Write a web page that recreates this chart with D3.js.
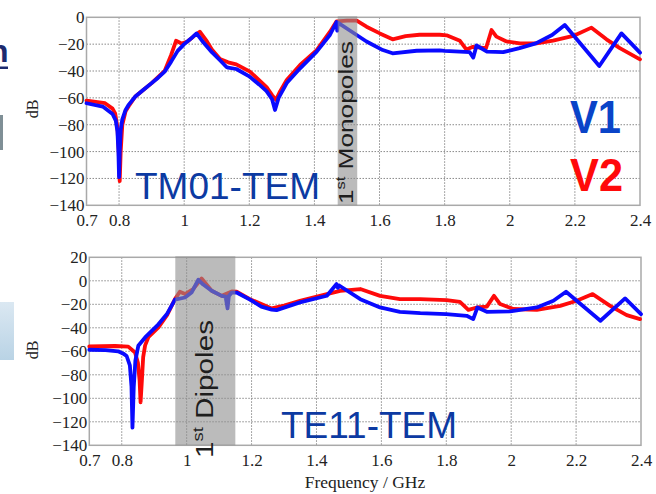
<!DOCTYPE html>
<html><head><meta charset="utf-8">
<script src="https://cdn.jsdelivr.net/npm/d3@7"></script>
<style>
html,body{margin:0;padding:0;background:#fff;}
svg{display:block;}
.tick text{font-family:"Liberation Serif","Times New Roman",serif;}
</style></head>
<body>
<svg id="chart" width="656" height="494"></svg>
<script>
// ---------- DATA ----------
const xTicks = [0.7, 0.8, 1, 1.2, 1.4, 1.6, 1.8, 2, 2.2, 2.4];
const xTickLabels = ["0.7", "0.8", "1", "1.2", "1.4", "1.6", "1.8", "2", "2.2", "2.4"];
const xGrid = [0.8, 1, 1.2, 1.4, 1.6, 1.8, 2, 2.2];
const yTicksTop = [0, -20, -40, -60, -80, -100, -120, -140];
const yTicksBottom = [20, 0, -20, -40, -60, -80, -100, -120, -140];

// TM01-TEM, V1 (blue)
const tmFreqV1 = [0.70,0.75,0.78,0.79,0.795,0.798,0.800,0.802,0.805,0.81,0.82,0.83,0.85,0.875,0.90,0.92,0.94,0.96,0.98,1.00,1.02,1.038,1.06,1.085,1.11,1.13,1.135,1.16,1.20,1.23,1.253,1.27,1.279,1.29,1.315,1.356,1.407,1.448,1.468,1.470,1.472,1.51,1.56,1.61,1.64,1.714,1.785,1.80,1.877,1.888,1.898,1.93,1.98,2.03,2.08,2.13,2.169,2.275,2.343,2.40];
const tmDbV1   = [-64,-66.5,-72,-77,-85,-100,-119,-100,-84,-76,-69,-65,-59,-54,-49,-45,-40.5,-33,-25,-20,-16,-12,-19,-26,-32,-37,-37.5,-38.5,-44,-50,-55,-61,-69,-60,-49,-38,-25.6,-13,-3.5,-10,-4,-10,-18,-24.4,-26.8,-24.9,-24.7,-25,-26,-30,-21,-25.5,-26,-23,-19.4,-13.2,-5.7,-36.3,-12,-26.3];

// TM01-TEM, V2 (red)
const tmFreqV2 = [0.70,0.757,0.78,0.788,0.795,0.799,0.802,0.805,0.81,0.82,0.83,0.85,0.90,0.94,0.96,0.975,0.992,1.01,1.03,1.048,1.07,1.085,1.11,1.135,1.16,1.202,1.253,1.27,1.282,1.295,1.315,1.356,1.407,1.448,1.468,1.50,1.53,1.56,1.601,1.64,1.68,1.723,1.785,1.806,1.847,1.867,1.887,1.927,1.944,1.959,1.99,2.031,2.082,2.133,2.195,2.251,2.297,2.338,2.40];
const tmDbV2   = [-62,-64,-68,-71.5,-82,-100,-122,-100,-80,-70,-66,-59,-49,-40,-28,-17.5,-19.5,-18,-14,-10.7,-18,-24,-31,-33.5,-35,-40.5,-52,-58,-61.5,-55,-46.7,-35.5,-24.4,-10.7,-3,-2.5,-2.5,-7,-12,-16.4,-14,-13,-13,-13.4,-17.5,-24,-22,-23,-9.5,-14.4,-18,-19.4,-19.4,-17.4,-13.9,-7.7,-16.4,-23,-31.3];

// TE11-TEM, V1 (blue)
const teFreqV1 = [0.70,0.75,0.789,0.805,0.815,0.825,0.83,0.833,0.837,0.842,0.851,0.872,0.913,0.94,0.964,0.995,1.015,1.036,1.05,1.077,1.108,1.12,1.126,1.13,1.139,1.154,1.195,1.23,1.262,1.277,1.349,1.432,1.462,1.466,1.47,1.535,1.596,1.657,1.72,1.80,1.863,1.883,1.896,1.925,1.997,2.079,2.13,2.169,2.275,2.351,2.40];
const teDbV1   = [-58.7,-59,-60,-62,-64,-72,-90,-125,-90,-68,-55.3,-48.2,-37,-28,-16,-14.2,-10,0.9,-3,-8.5,-12.8,-13.5,-23.5,-13,-10,-10,-16,-22,-24.5,-25,-18.4,-12.7,-2.8,-6,-4,-15.6,-22.7,-26.4,-27.5,-28.3,-29.8,-32.6,-22.7,-26.4,-26,-22.7,-17,-9.3,-34,-15,-28.3];

// TE11-TEM, V2 (red)
const teFreqV2 = [0.70,0.78,0.82,0.841,0.85,0.855,0.858,0.862,0.866,0.872,0.882,0.913,0.94,0.964,0.979,0.995,1.02,1.046,1.077,1.108,1.139,1.154,1.195,1.262,1.30,1.349,1.432,1.473,1.535,1.596,1.657,1.72,1.801,1.842,1.868,1.894,1.925,1.947,1.966,2.007,2.079,2.151,2.202,2.251,2.305,2.356,2.397];
const teDbV2   = [-55.8,-55.5,-56,-61,-70,-85,-103.5,-85,-65,-55,-48,-39.7,-29,-15.6,-9.3,-11.3,-7,2,-8.5,-12.8,-9,-9.3,-15.6,-23.5,-21,-17,-11.3,-8.5,-7,-12.8,-15.6,-15.6,-16.4,-18,-24.7,-22.7,-22,-12.8,-19.8,-24,-24.7,-21.3,-17,-11.3,-21.3,-29.2,-32.6];

// shaded bands (GHz)
const monopoleBand = [1.4715, 1.5315];
const dipoleBand = [0.965, 1.15];

// ---------- DRAW ----------
const svg = d3.select("#chart");
const RED = "#ff0a0a", BLUE = "#0a0aff";
const SERIF = "'Liberation Serif', 'Times New Roman', serif";
const SANS = "'Liberation Sans', Arial, sans-serif";

// slide artefacts on the left edge
const defs = svg.append("defs");
const lg = defs.append("linearGradient").attr("id","bluebox").attr("x1",0).attr("y1",0).attr("x2",0).attr("y2",1);
lg.append("stop").attr("offset","0%").attr("stop-color","#dbe8f2");
lg.append("stop").attr("offset","100%").attr("stop-color","#b9d3e5");
svg.append("rect").attr("x",0).attr("y",302).attr("width",14).attr("height",58).attr("fill","url(#bluebox)");
svg.append("rect").attr("x",0).attr("y",115).attr("width",3).attr("height",35).attr("fill","#7f8f96");
svg.append("text").attr("x",-11).attr("y",62).style("font-family",SANS)
  .attr("font-weight","bold").attr("font-size",32).attr("fill","#1d2a6e").text("n");
svg.append("rect").attr("x",0).attr("y",66.5).attr("width",8).attr("height",2.5).attr("fill","#1d2a6e");

function panel(opt) {
  const x = d3.scaleLinear().domain([0.7, 2.4]).range([opt.x0, opt.x1]);
  const y = d3.scaleLinear().domain([opt.yTicks[opt.yTicks.length-1], opt.yTicks[0]]).range([opt.y1, opt.y0]);
  const g = svg.append("g");

  // grid
  g.append("g").selectAll("line").data(xGrid).join("line")
    .attr("x1", d => x(d)).attr("x2", d => x(d)).attr("y1", opt.y0).attr("y2", opt.y1)
    .attr("stroke", "#8a8a8a").attr("stroke-width", 1).attr("stroke-dasharray", "1.5,1.5");
  g.append("g").selectAll("line").data(opt.yTicks.slice(1, -1)).join("line")
    .attr("y1", d => y(d)).attr("y2", d => y(d)).attr("x1", opt.x0).attr("x2", opt.x1)
    .attr("stroke", "#8a8a8a").attr("stroke-width", 1).attr("stroke-dasharray", "1.5,1.5");

  // frame
  g.append("rect").attr("x", opt.x0).attr("y", opt.y0).attr("width", opt.x1 - opt.x0).attr("height", opt.y1 - opt.y0)
    .attr("fill", "none").attr("stroke", "#a9a9a9").attr("stroke-width", 1.5);

  // axes via d3
  const xAxis = d3.axisBottom(x).tickValues(xTicks).tickSize(0).tickPadding(0)
    .tickFormat((d, i) => xTickLabels[i]);
  const xa = g.append("g").attr("transform", `translate(0,${opt.y1})`).call(xAxis)
    .attr("font-family", null).attr("font-size", null);
  xa.select(".domain").remove();
  xa.selectAll("text").style("font-family", SERIF).style("font-size", "17px")
    .attr("fill", "#222").attr("dy", null).attr("y", opt.xLabelDy);

  const yAxis = d3.axisLeft(y).tickValues(opt.yTicks).tickSize(0).tickPadding(2);
  const ya = g.append("g").attr("transform", `translate(${opt.x0},0)`).call(yAxis)
    .attr("font-family", null).attr("font-size", null);
  ya.select(".domain").remove();
  ya.selectAll("text").style("font-family", SERIF).style("font-size", "17px")
    .attr("fill", "#222");

  // y label
  g.append("text").attr("transform", `translate(${opt.dbX},${opt.dbY}) rotate(-90)`)
    .attr("text-anchor", "middle").style("font-family", SERIF)
    .attr("font-size", 16).attr("fill", "#222").text("dB");

  // lines
  const line = d3.line().x(d => x(d[0])).y(d => y(d[1]));
  g.append("path").datum(d3.zip(opt.fV2, opt.dV2)).attr("d", line)
    .attr("fill", "none").attr("stroke", RED).attr("stroke-width", 3.8).attr("stroke-linejoin", "round").attr("stroke-linecap","round");
  g.append("path").datum(d3.zip(opt.fV1, opt.dV1)).attr("d", line)
    .attr("fill", "none").attr("stroke", BLUE).attr("stroke-width", 3.8).attr("stroke-linejoin", "round").attr("stroke-linecap","round");

  // band overlay
  g.append("rect").attr("x", x(opt.band[0])).attr("width", x(opt.band[1]) - x(opt.band[0]))
    .attr("y", opt.y0 - 1).attr("height", opt.y1 - opt.y0 + 1)
    .attr("fill", "#8e8e8e").attr("fill-opacity", 0.6);

  // band label
  const bt = g.append("text").attr("transform", `translate(${opt.bandTextX},${opt.bandTextY}) rotate(-90)`)
    .style("font-family", SANS).attr("font-size", opt.bandFont).attr("fill", "#1e1e1e")
    .attr("textLength", opt.bandLen).attr("lengthAdjust", "spacingAndGlyphs");
  bt.append("tspan").text("1");
  bt.append("tspan").attr("font-size", opt.bandFont * 0.62).attr("dy", -opt.bandFont * 0.42).text("st");
  bt.append("tspan").attr("dy", opt.bandFont * 0.42).text("\u00a0" + opt.bandText);

  // mode label
  g.append("text").attr("x", opt.modeX).attr("y", opt.modeY)
    .style("font-family", SANS).attr("font-size", 37).attr("fill", "#0c3aa2")
    .text(opt.modeText);
  return {x, y};
}

panel({
  x0: 86.5, x1: 640, y0: 17.3, y1: 205.3, yTicks: yTicksTop, xLabelDy: 20.5,
  dbX: 38, dbY: 109,
  fV1: tmFreqV1, dV1: tmDbV1, fV2: tmFreqV2, dV2: tmDbV2,
  band: monopoleBand, bandText: "Monopoles", bandTextX: 353, bandTextY: 204, bandFont: 20, bandLen: 163,
  modeText: "TM01-TEM", modeX: 135, modeY: 199
});

panel({
  x0: 89.3, x1: 641, y0: 257.3, y1: 445.3, yTicks: yTicksBottom, xLabelDy: 21,
  dbX: 38, dbY: 350,
  fV1: teFreqV1, dV1: teDbV1, fV2: teFreqV2, dV2: teDbV2,
  band: dipoleBand, bandText: "Dipoles", bandTextX: 213, bandTextY: 458, bandFont: 23, bandLen: 138,
  modeText: "TE11-TEM", modeX: 281, modeY: 438
});

// x axis title
svg.append("text").attr("x", 365).attr("y", 488).attr("text-anchor", "middle")
  .style("font-family", SERIF).attr("font-size", 17.5).attr("fill", "#222")
  .text("Frequency / GHz");

// legend labels
svg.append("text").attr("x", 570).attr("y", 133).style("font-family", SANS)
  .attr("font-weight", "bold").attr("font-size", 46).attr("fill", "#0a44c8").attr("textLength", 51).attr("lengthAdjust","spacingAndGlyphs").text("V1");
svg.append("text").attr("x", 570).attr("y", 191).style("font-family", SANS)
  .attr("font-weight", "bold").attr("font-size", 46).attr("fill", "#ff0a0a").attr("textLength", 53).attr("lengthAdjust","spacingAndGlyphs").text("V2");
</script>
</body></html>
